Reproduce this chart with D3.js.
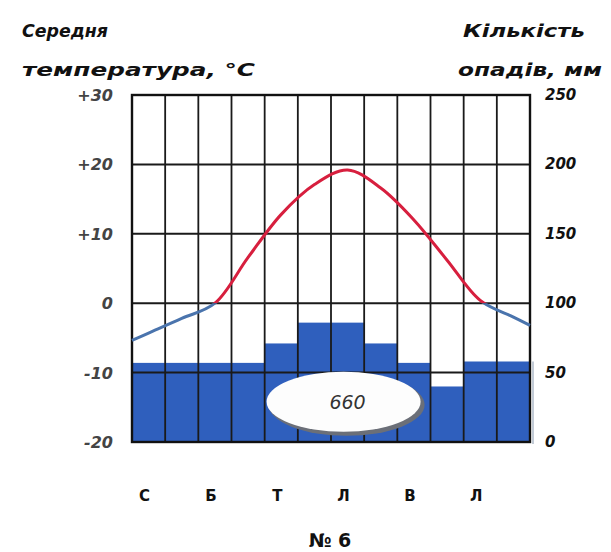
<!DOCTYPE html>
<html>
<head>
<meta charset="utf-8">
<script src="https://cdn.jsdelivr.net/npm/d3@7"></script>
<style>
  html, body { margin: 0; padding: 0; background: #fff; }
  svg { display: block; }
  text { font-family: "DejaVu Sans", "Noto Sans", sans-serif; }
</style>
</head>
<body>
<svg id="chart" width="611" height="552"></svg>
<script>
// ---- data ----
const months = [1,2,3,4,5,6,7,8,9,10,11,12];
const monthLabels = ["С","","Б","","Т","","Л","","В","","Л",""];
const temperature = [-4.3,-2.2,0.0,6.6,12.8,17.1,19.2,16.6,12.0,6.2,0.4,-2.0];
const precipitation = [57,57,57,57,71,86,86,71,57,40,58,58];
const tempTicks = [-20,-10,0,10,20,30];
const tempTickLabels = ["-20","-10","0","+10","+20","+30"];
const precTicks = [0,50,100,150,200,250];
const annualTotal = "660";
const chartNumber = "№ 6";

// ---- layout ----
const svg = d3.select("#chart");
const L = 132, R = 530, T = 95, B = 442;

const x = d3.scaleBand().domain(months).range([L, R]).paddingInner(0).paddingOuter(0);
const xl = d3.scaleLinear().domain([0.5, 12.5]).range([L, R]);
const yT = d3.scaleLinear().domain([-20, 30]).range([B, T]);
const yP = d3.scaleLinear().domain([0, 250]).range([B, T]);

// bars
svg.append("g").selectAll("rect").data(months).join("rect")
  .attr("x", d => x(d))
  .attr("width", x.bandwidth())
  .attr("y", (d, i) => yP(precipitation[i]))
  .attr("height", (d, i) => B - yP(precipitation[i]))
  .attr("fill", "#2f5fbd");

// faint right side line beside last bar
svg.append("line")
  .attr("x1", R + 3).attr("x2", R + 3)
  .attr("y1", yP(precipitation[11])).attr("y2", B + 2)
  .attr("stroke", "#9aa8bb").attr("stroke-width", 1.2);

// grid
const grid = svg.append("g").attr("stroke", "#1a1a1a");
grid.selectAll("line.h").data(tempTicks).join("line")
  .attr("class", "h")
  .attr("x1", L).attr("x2", R)
  .attr("y1", d => yT(d)).attr("y2", d => yT(d))
  .attr("stroke-width", 2);
grid.selectAll("line.v").data(months.slice(1)).join("line")
  .attr("class", "v")
  .attr("x1", d => x(d)).attr("x2", d => x(d))
  .attr("y1", T).attr("y2", B)
  .attr("stroke-width", 1.8);
svg.append("rect")
  .attr("x", L).attr("y", T).attr("width", R - L).attr("height", B - T)
  .attr("fill", "none").attr("stroke", "#111").attr("stroke-width", 2.4);

// temperature line: extend to plot edges by linear extrapolation of end points
const n = temperature.length;
const pts = [[0.5, temperature[0] - (temperature[1] - temperature[0]) / 2]]
  .concat(months.map((m, i) => [m, temperature[i]]))
  .concat([[12.5, temperature[n - 1] + (temperature[n - 1] - temperature[n - 2]) / 2]]);
const line = d3.line().x(d => xl(d[0])).y(d => yT(d[1])).curve(d3.curveCatmullRom.alpha(0.5));

const defs = svg.append("defs");
defs.append("clipPath").attr("id", "above").append("rect")
  .attr("x", L).attr("y", T).attr("width", R - L).attr("height", yT(0) - T);
defs.append("clipPath").attr("id", "below").append("rect")
  .attr("x", L - 2).attr("y", yT(0)).attr("width", R - L + 4).attr("height", B - yT(0));

svg.append("path").datum(pts).attr("d", line)
  .attr("fill", "none").attr("stroke", "#d71f3e").attr("stroke-width", 3)
  .attr("clip-path", "url(#above)");
svg.append("path").datum(pts).attr("d", line)
  .attr("fill", "none").attr("stroke", "#4a74ad").attr("stroke-width", 3)
  .attr("clip-path", "url(#below)");

// ellipse with total (centred under July)
const ex = x(7) + x.bandwidth() / 2 - 4, ey = yP(29);
svg.append("ellipse").attr("cx", ex + 3).attr("cy", ey + 3).attr("rx", 78).attr("ry", 31)
  .attr("fill", "#6b6f78");
svg.append("ellipse").attr("cx", ex).attr("cy", ey).attr("rx", 77).attr("ry", 30)
  .attr("fill", "#fdfdfd");
svg.append("text").attr("x", ex + 4).attr("y", ey + 7)
  .attr("text-anchor", "middle").attr("font-size", 19).attr("font-style", "italic")
  .attr("fill", "#333").text(annualTotal);

// left axis labels
svg.append("g").selectAll("text").data(tempTicks).join("text")
  .attr("x", 113).attr("y", d => yT(d) + 6)
  .attr("text-anchor", "end").attr("font-size", 16).attr("font-weight", "bold")
  .attr("font-style", "italic").attr("fill", "#444")
  .text((d, i) => tempTickLabels[i]);

// right axis labels
svg.append("g").selectAll("text").data(precTicks).join("text")
  .attr("x", 545).attr("y", d => yP(d) + 5)
  .attr("text-anchor", "start").attr("font-size", 15).attr("font-weight", "bold")
  .attr("font-style", "italic").attr("fill", "#111")
  .text(d => d);

// month labels
svg.append("g").selectAll("text").data(months).join("text")
  .attr("x", d => x(d) + x.bandwidth() / 2 - 4).attr("y", 501)
  .attr("text-anchor", "middle").attr("font-size", 15).attr("font-weight", "bold")
  .attr("fill", "#111")
  .text((d, i) => monthLabels[i]);

// chart number
svg.append("text").attr("x", 330).attr("y", 547)
  .attr("text-anchor", "middle").attr("font-size", 19).attr("font-weight", "bold")
  .attr("fill", "#111").text(chartNumber);

// axis titles
const titleStyle = sel => sel.attr("font-size", 17).attr("font-weight", "bold")
  .attr("font-style", "italic").attr("fill", "#111");
svg.append("text").attr("x", 22).attr("y", 37).call(titleStyle)
  .attr("textLength", 86).attr("lengthAdjust", "spacingAndGlyphs").text("Середня");
svg.append("text").attr("x", 22).attr("y", 76).call(titleStyle)
  .attr("textLength", 233).attr("lengthAdjust", "spacingAndGlyphs").text("температура, °C");
svg.append("text").attr("x", 585).attr("y", 37).call(titleStyle)
  .attr("text-anchor", "end")
  .attr("textLength", 122).attr("lengthAdjust", "spacingAndGlyphs").text("Кількість");
svg.append("text").attr("x", 602).attr("y", 76).call(titleStyle)
  .attr("text-anchor", "end")
  .attr("textLength", 144).attr("lengthAdjust", "spacingAndGlyphs").text("опадів, мм");
</script>
</body>
</html>
